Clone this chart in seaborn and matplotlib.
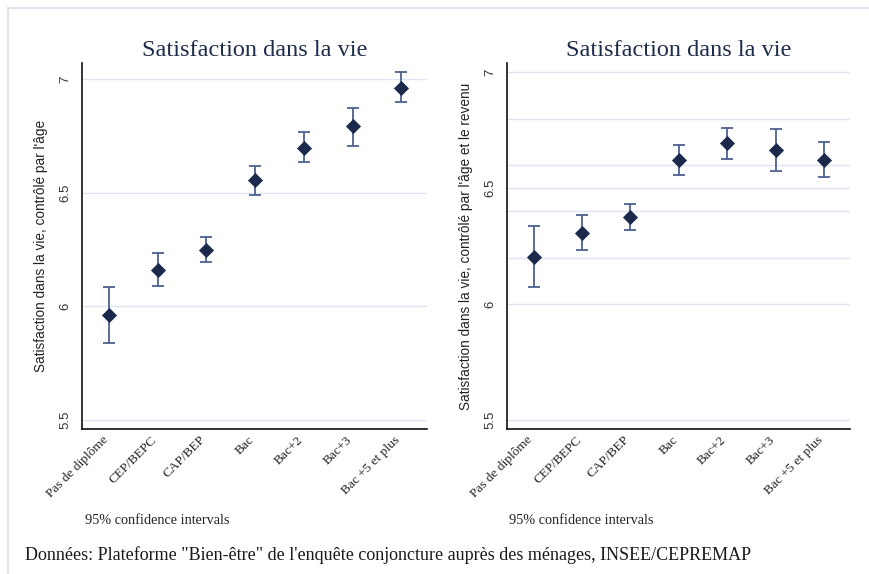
import matplotlib
matplotlib.use("Agg")
import matplotlib.pyplot as plt
import matplotlib.lines as mlines
import matplotlib.transforms as mtransforms
import seaborn as sns
import pandas as pd

# Satisfaction dans la vie selon le diplome (intervalles de confiance a 95%)
diplomes = ["Pas de diplôme", "CEP/BEPC", "CAP/BEP", "Bac", "Bac+2", "Bac+3", "Bac +5 et plus"]

age_moy = [5.96, 6.158, 6.249, 6.553, 6.698, 6.791, 6.958]
age_bas = [5.84, 6.087, 6.196, 6.491, 6.633, 6.706, 6.896]
age_haut = [6.084, 6.233, 6.306, 6.617, 6.764, 6.872, 7.028]

rev_moy = [6.204, 6.305, 6.377, 6.622, 6.694, 6.665, 6.622]
rev_bas = [6.075, 6.233, 6.318, 6.557, 6.626, 6.573, 6.547]
rev_haut = [6.338, 6.383, 6.433, 6.685, 6.761, 6.757, 6.698]

y_ticks = [5.5, 6, 6.5, 7]
y_ticklabels = ["5.5", "6", "6.5", "7"]

NAVY = "#1b2a4c"
ERR = "#4d6190"
GRID = "#dfe4f0"
SERIF = ["Liberation Serif", "DejaVu Serif"]
SANS = ["Liberation Sans", "DejaVu Sans"]

sns.set_style("white")
plt.rcParams["font.family"] = SANS

fig = plt.figure(figsize=(8.7, 5.74), dpi=100)
shift = mtransforms.ScaledTranslation(-7 / 100, 2 / 100, fig.dpi_scale_trans)


def panneau(ax, moy, bas, haut, ylabel, ylim, extra_grid=None):
    df = pd.DataFrame({"diplome": diplomes, "moy": moy})
    sns.scatterplot(data=df, x="diplome", y="moy", marker="D", s=52,
                    color=NAVY, edgecolor=NAVY, linewidth=0.5, zorder=4, ax=ax)
    err_bas = [m - b for m, b in zip(moy, bas)]
    err_haut = [h - m for m, h in zip(moy, haut)]
    ax.errorbar(diplomes, moy, yerr=[err_bas, err_haut], fmt="none",
                ecolor=ERR, elinewidth=1.3, capsize=4.5, capthick=1.3, zorder=3)

    ax.set_xlim(-0.55, 6.53)
    ax.set_ylim(*ylim)
    ax.set_yticks(y_ticks)
    ax.set_yticklabels(y_ticklabels, rotation=90, va="center", fontsize=9.5, color="#333333")
    if extra_grid:
        ax.set_yticks(extra_grid, minor=True)
        ax.tick_params(axis="y", which="minor", length=0)
        ax.grid(axis="y", which="minor", color=GRID, lw=1)
    ax.grid(axis="y", which="major", color=GRID, lw=1)
    ax.set_axisbelow(True)

    ax.set_xticks(range(len(diplomes)))
    ax.tick_params(axis="x", length=0, pad=5)
    ax.tick_params(axis="y", which="major", length=5, width=1, color="#222222", pad=3)
    ax.set_xticklabels(diplomes, rotation=45, ha="right", rotation_mode="anchor",
                       fontsize=9.6, family=SERIF, color="#222222")
    for lab in ax.get_xticklabels():
        lab.set_transform(lab.get_transform() + shift)

    ax.set_xlabel("")
    ax.set_ylabel(ylabel, fontsize=9.8, color="#222222", labelpad=8)
    ax.set_title("Satisfaction dans la vie", family=SERIF, fontsize=17.5,
                 color="#1f2d4d", pad=5)
    for s in ["top", "right"]:
        ax.spines[s].set_visible(False)
    for s in ["left", "bottom"]:
        ax.spines[s].set_color("#111111")
        ax.spines[s].set_linewidth(1.2)


ax1 = fig.add_axes([0.0943, 0.2526, 0.3966, 0.637])
panneau(ax1, age_moy, age_bas, age_haut,
        "Satisfaction dans la vie, contrôlé par l'âge", (5.46, 7.068))

ax2 = fig.add_axes([0.5828, 0.2526, 0.394, 0.637])
panneau(ax2, rev_moy, rev_bas, rev_haut,
        "Satisfaction dans la vie, contrôlé par l'âge et le revenu", (5.461, 7.039),
        extra_grid=[6.2, 6.4, 6.6, 6.8])

fig.text(85 / 870, 1 - 521 / 574, "95% confidence intervals", family=SERIF,
         fontsize=10.3, color="#222222", va="center")
fig.text(509 / 870, 1 - 521 / 574, "95% confidence intervals", family=SERIF,
         fontsize=10.3, color="#222222", va="center")
fig.text(25 / 870, 1 - 555 / 574,
         "Données: Plateforme \"Bien-être\" de l'enquête conjoncture auprès des ménages, INSEE/CEPREMAP",
         family=SERIF, fontsize=13, color="#1a1a1a", va="center")

# cadre clair autour du graphique
fig.add_artist(mlines.Line2D([8 / 870, 1], [1 - 8 / 574, 1 - 8 / 574],
                             transform=fig.transFigure, color="#dfe3ee", lw=1.5))
fig.add_artist(mlines.Line2D([8 / 870, 8 / 870], [0, 1 - 8 / 574],
                             transform=fig.transFigure, color="#dfe3ee", lw=1.5))

fig.savefig("out.png", dpi=100, facecolor="white")
